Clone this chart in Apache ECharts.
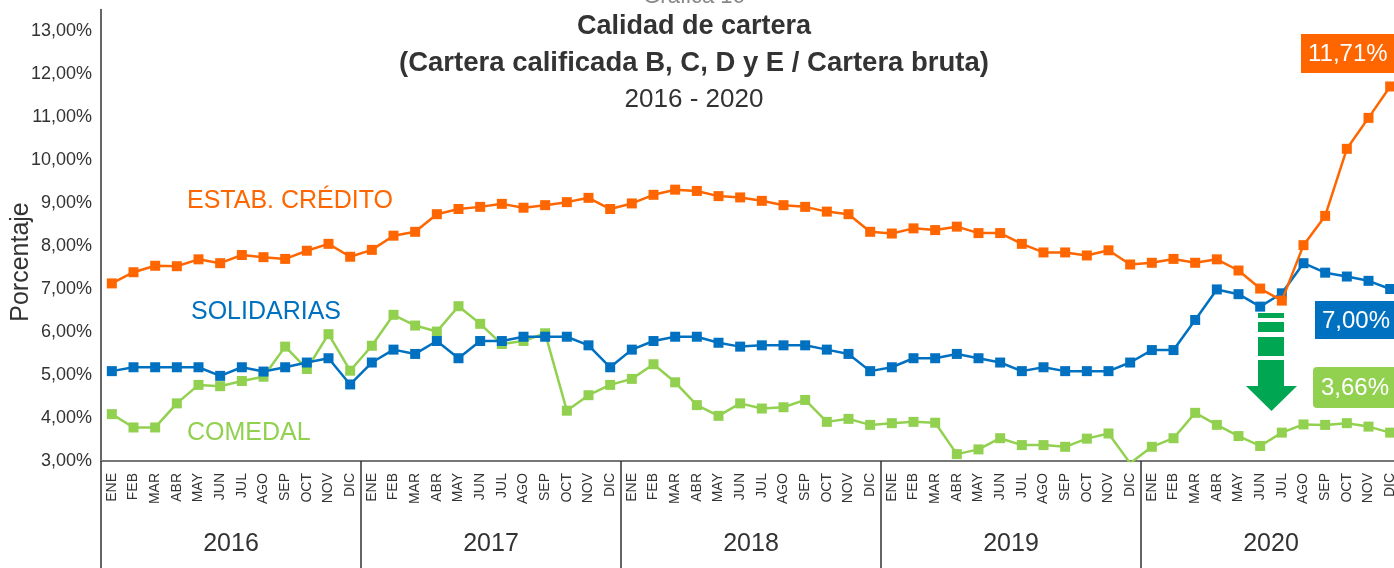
<!DOCTYPE html>
<html>
<head>
<meta charset="utf-8">
<script src="https://cdn.jsdelivr.net/npm/echarts@6/dist/echarts.min.js"></script>
<style>
html,body{margin:0;padding:0;background:#fff;}
#chart{width:1394px;height:568px;}
</style>
</head>
<body>
<div id="chart"></div>
<script>
const months = ['ENE','FEB','MAR','ABR','MAY','JUN','JUL','AGO','SEP','OCT','NOV','DIC'];
const years = ['2016','2017','2018','2019','2020'];
const categories = years.flatMap(y => months.map(m => m + ' ' + y));

const estabCredito = [
  7.13,7.39,7.54,7.53,7.69,7.60,7.79,7.74,7.70,7.89,8.05,7.75,
  7.91,8.24,8.33,8.74,8.86,8.91,8.98,8.89,8.95,9.02,9.12,8.86,
  8.99,9.19,9.31,9.28,9.16,9.13,9.05,8.95,8.91,8.80,8.74,8.33,
  8.29,8.41,8.37,8.45,8.30,8.30,8.05,7.85,7.85,7.78,7.90,7.57,
  7.61,7.70,7.61,7.69,7.43,7.01,6.73,8.02,8.70,10.26,10.98,11.71
];
const solidarias = [
  5.09,5.18,5.18,5.18,5.18,4.98,5.18,5.08,5.18,5.29,5.39,4.78,
  5.29,5.59,5.49,5.79,5.39,5.79,5.79,5.89,5.89,5.89,5.69,5.18,
  5.59,5.79,5.89,5.89,5.75,5.66,5.69,5.69,5.69,5.59,5.49,5.09,
  5.18,5.39,5.39,5.49,5.39,5.29,5.09,5.18,5.09,5.09,5.09,5.29,
  5.58,5.58,6.28,6.99,6.88,6.59,6.90,7.60,7.38,7.29,7.19,7.00
];
const comedal = [
  4.09,3.78,3.78,4.34,4.77,4.74,4.86,4.96,5.66,5.14,5.95,5.10,
  5.68,6.40,6.15,6.01,6.60,6.19,5.72,5.79,5.97,4.17,4.53,4.77,
  4.91,5.25,4.83,4.30,4.05,4.34,4.22,4.25,4.42,3.91,3.98,3.84,
  3.88,3.91,3.89,3.16,3.27,3.53,3.37,3.37,3.33,3.52,3.64,2.95,
  3.33,3.53,4.12,3.84,3.58,3.35,3.66,3.85,3.84,3.88,3.80,3.66
];

const FONT = "'Liberation Sans', Arial, Helvetica, sans-serif";
const C_ORANGE = '#FF6600', C_BLUE = '#0070C0', C_GREEN = '#92D050', C_ARROW = '#00A651';
const fmt = v => v.toFixed(2).replace('.', ',') + '%';

const chart = echarts.init(document.getElementById('chart'), null, {renderer: 'canvas'});

function lineSeries(name, data, color, z) {
  return {
    name, type: 'line', data, xAxisIndex: 0, yAxisIndex: 0,
    symbol: 'rect', symbolSize: 10, z,
    lineStyle: {color, width: 2.5},
    itemStyle: {color},
    animation: false
  };
}

chart.setOption({
  animation: false,
  textStyle: {fontFamily: FONT},
  grid: {left: 101, width: 1300, top: 9.5, height: 451.5, containLabel: false, outerBoundsMode: 'none'},
  xAxis: [
    {
      type: 'category', data: categories, position: 'bottom', boundaryGap: true,
      axisLine: {show: true, lineStyle: {color: '#777', width: 2}},
      axisTick: {show: false},
      axisLabel: {
        interval: 0, rotate: 90, margin: 12, fontSize: 14, color: '#333', fontFamily: FONT,
        formatter: v => v.split(' ')[0]
      },
      splitLine: {show: false}
    },
    {
      type: 'category', data: years, position: 'bottom', boundaryGap: true, offset: 0,
      axisLine: {show: false},
      axisTick: {show: true, length: 108, interval: 0, lineStyle: {color: '#333', width: 1.5}},
      axisLabel: {interval: 0, margin: 71, fontSize: 25, color: '#333', fontFamily: FONT},
      splitLine: {show: false}
    }
  ],
  yAxis: {
    type: 'value', min: 3, max: 13.5, interval: 1,
    axisLine: {show: true, lineStyle: {color: '#333', width: 1.5}},
    axisTick: {show: false},
    splitLine: {show: false},
    axisLabel: {
      margin: 9, fontSize: 18, color: '#333', fontFamily: FONT,
      formatter: v => (v > 13.01 ? '' : fmt(v))
    }
  },
  series: [
    lineSeries('COMEDAL', comedal, C_GREEN, 2),
    lineSeries('SOLIDARIAS', solidarias, C_BLUE, 3),
    lineSeries('ESTAB. CRÉDITO', estabCredito, C_ORANGE, 4)
  ],
  graphic: [
    // titles
    {type: 'text', x: 694, y: 8, z: 10, style: {text: 'Gráfica 16', fill: '#888', font: '22px ' + FONT, textAlign: 'center', textVerticalAlign: 'bottom'}},
    {type: 'text', x: 694, y: 27, z: 10, style: {text: 'Calidad de cartera', fill: '#333', font: 'bold 27px ' + FONT, textAlign: 'center', textVerticalAlign: 'middle'}},
    {type: 'text', x: 694, y: 63, z: 10, style: {text: '(Cartera calificada B, C, D y E / Cartera bruta)', fill: '#333', font: 'bold 27.5px ' + FONT, textAlign: 'center', textVerticalAlign: 'middle'}},
    {type: 'text', x: 694, y: 100, z: 10, style: {text: '2016 - 2020', fill: '#333', font: '26px ' + FONT, textAlign: 'center', textVerticalAlign: 'middle'}},
    // y axis name
    {type: 'text', x: 21, y: 262, rotation: Math.PI / 2, z: 10, style: {text: 'Porcentaje', fill: '#333', font: '25px ' + FONT, textAlign: 'center', textVerticalAlign: 'middle'}},
    // series names
    {type: 'text', x: 187, y: 201, z: 10, style: {text: 'ESTAB. CRÉDITO', fill: C_ORANGE, font: '25px ' + FONT, textAlign: 'left', textVerticalAlign: 'middle'}},
    {type: 'text', x: 191, y: 312, z: 10, style: {text: 'SOLIDARIAS', fill: C_BLUE, font: '25px ' + FONT, textAlign: 'left', textVerticalAlign: 'middle'}},
    {type: 'text', x: 187, y: 433, z: 10, style: {text: 'COMEDAL', fill: C_GREEN, font: '25px ' + FONT, textAlign: 'left', textVerticalAlign: 'middle'}},
    // end value boxes
    {type: 'rect', z: 10, shape: {x: 1301, y: 34, width: 100, height: 39}, style: {fill: C_ORANGE}},
    {type: 'text', x: 1308, y: 54, z: 11, style: {text: fmt(estabCredito[estabCredito.length - 1]), fill: '#fff', font: '24px ' + FONT, textAlign: 'left', textVerticalAlign: 'middle'}},
    {type: 'rect', z: 10, shape: {x: 1315, y: 301, width: 90, height: 38}, style: {fill: C_BLUE}},
    {type: 'text', x: 1322, y: 321, z: 11, style: {text: fmt(solidarias[solidarias.length - 1]), fill: '#fff', font: '24px ' + FONT, textAlign: 'left', textVerticalAlign: 'middle'}},
    {type: 'rect', z: 10, shape: {x: 1313, y: 367, width: 90, height: 41, r: 4}, style: {fill: C_GREEN}},
    {type: 'text', x: 1321, y: 388, z: 11, style: {text: fmt(comedal[comedal.length - 1]), fill: '#fff', font: '24px ' + FONT, textAlign: 'left', textVerticalAlign: 'middle'}},
    // arrow
    {type: 'rect', z: 10, shape: {x: 1258, y: 313, width: 26, height: 5}, style: {fill: C_ARROW}},
    {type: 'rect', z: 10, shape: {x: 1258, y: 322, width: 26, height: 10}, style: {fill: C_ARROW}},
    {type: 'rect', z: 10, shape: {x: 1258, y: 337, width: 26, height: 19}, style: {fill: C_ARROW}},
    {type: 'rect', z: 10, shape: {x: 1258, y: 360, width: 26, height: 27}, style: {fill: C_ARROW}},
    {type: 'polygon', z: 10, shape: {points: [[1246, 386], [1297, 386], [1271.5, 411]]}, style: {fill: C_ARROW}}
  ]
});
</script>
</body>
</html>
